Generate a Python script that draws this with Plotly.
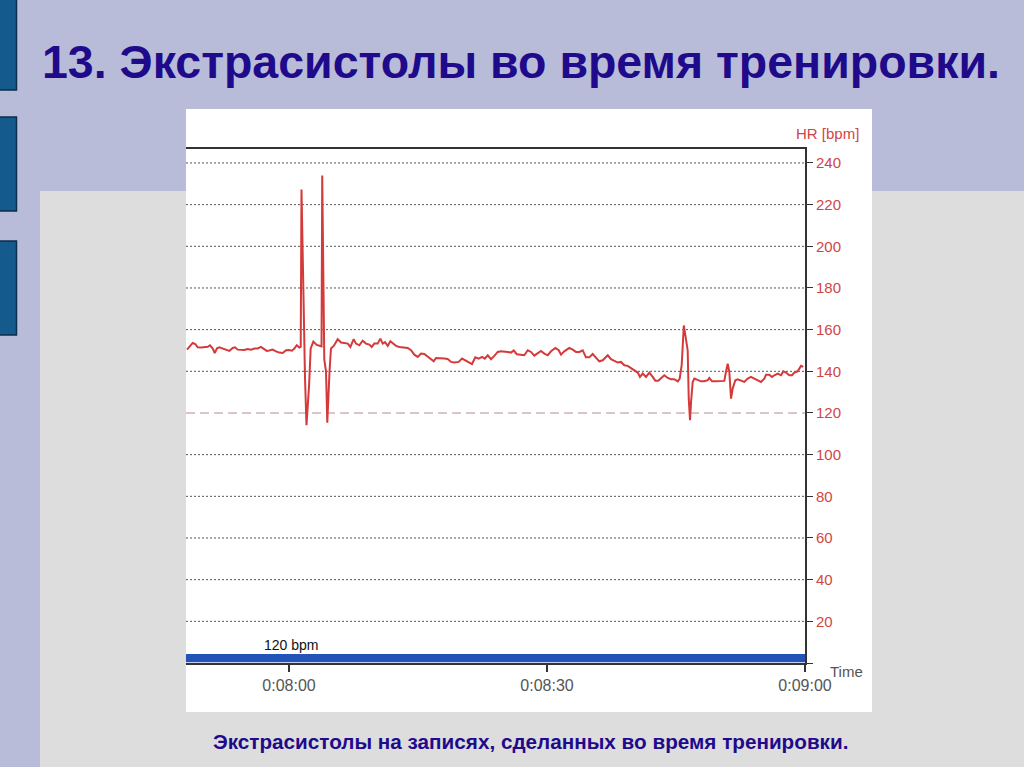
import plotly.graph_objects as go

# ---------------- data ----------------
time_s = [
    468.14, 468.49, 468.80, 469.10, 469.38, 469.77, 470.15, 470.55, 470.81, 471.13,
    471.36, 471.63, 471.90, 472.29, 472.67, 473.06, 473.45, 473.72, 474.03, 474.42,
    474.80, 475.20, 475.58, 475.97, 476.36, 476.74, 477.13, 477.41, 477.71, 478.10,
    478.49, 478.87, 479.27, 479.65, 479.97, 480.35, 480.62, 480.90, 481.20,
    481.36, 481.45, 481.74, 481.86, 482.03, 482.33, 482.52, 482.83, 483.22, 483.60,
    483.78, 483.86, 484.10, 484.30, 484.45, 484.71, 484.88,
    485.20, 485.66, 486.05, 486.43, 486.83, 487.13, 487.52, 487.79, 488.17, 488.57,
    488.95, 489.34, 489.62, 489.92, 490.31, 490.62, 490.90, 491.16, 491.48, 491.78,
    492.17, 492.44, 492.83, 493.22, 493.80, 494.19, 494.57, 494.97, 495.35, 495.73,
    496.13, 496.51, 496.83, 497.09,
    497.48, 498.06, 498.45, 498.84, 499.22, 499.73, 500.12, 500.58, 500.97, 501.28,
    501.66, 502.06, 502.44, 502.76, 503.11, 503.49, 503.87, 504.27, 504.65, 505.04,
    505.43, 505.81, 506.13, 506.48, 506.86, 507.36, 507.76, 508.14, 508.52, 508.92,
    509.30, 509.69, 510.08, 510.47, 510.97, 511.36,
    511.63, 512.01, 512.59, 512.99, 513.37, 513.76, 514.15, 514.53, 514.92, 515.31,
    515.70, 516.08, 516.48, 517.06, 517.44, 517.83, 518.22, 518.60, 518.99, 519.38,
    519.77, 520.15, 520.55, 520.81, 521.13, 521.51, 521.90, 522.29, 522.59, 522.94,
    523.26, 523.64, 524.04, 524.42, 524.80, 525.20, 525.43, 525.66, 525.91,
    526.05, 526.36, 526.48, 526.63, 526.75, 526.94,
    527.13, 527.52, 527.91, 528.29, 528.69, 528.87, 529.19, 529.65, 530.23, 530.62,
    530.81, 531.01, 531.20, 531.40, 531.59, 531.90, 532.17, 532.56, 532.94, 533.34,
    533.72, 534.11, 534.50, 534.88, 535.27, 535.47, 535.85, 536.16, 536.43, 536.83,
    537.21, 537.48, 537.79, 538.17, 538.49, 538.76, 539.15, 539.54, 539.80,
]
hr_bpm = [
    150.4, 152.2, 153.6, 153.1, 151.5, 151.4, 151.7, 151.8, 152.5, 150.9,
    148.8, 151.0, 151.5, 150.9, 150.6, 149.8, 151.2, 151.5, 150.4, 150.4,
    150.2, 150.7, 150.4, 150.9, 151.0, 151.7, 150.4, 149.8, 150.0, 150.4,
    149.6, 149.0, 148.8, 150.1, 150.2, 149.9, 150.9, 152.5, 151.4,
    151.7, 227.3, 158.9, 136.7, 114.1, 133.0, 151.0, 154.3, 152.7, 152.2,
    152.0, 234.0, 145.7, 140.0, 115.3, 140.0, 151.0,
    152.2, 155.4, 153.8, 153.4, 153.3, 151.7, 155.4, 153.3, 152.5, 154.7,
    153.3, 152.8, 151.7, 153.3, 153.3, 155.7, 153.3, 154.0, 152.2, 154.4,
    153.3, 152.2, 151.7, 151.5, 151.2, 150.1, 148.0, 146.9, 148.5, 148.3,
    146.9, 145.8, 144.8, 146.4,
    146.4, 146.1, 145.9, 144.5, 144.2, 144.5, 146.1, 145.1, 144.2, 143.5,
    146.7, 146.1, 146.9, 146.1, 147.7, 145.8, 147.4, 149.3, 149.6, 149.6,
    149.3, 149.0, 150.0, 148.2, 148.0, 147.7, 150.1, 149.3, 147.5, 148.5,
    149.8, 148.5, 147.7, 149.6, 151.2, 150.1,
    148.0, 149.6, 151.2, 150.4, 149.3, 149.3, 150.1, 146.7, 146.7, 148.3,
    146.4, 144.8, 145.3, 147.7, 145.8, 145.1, 144.2, 144.5, 142.9, 142.6,
    141.6, 140.5, 139.4, 137.3, 138.9, 137.3, 139.4, 137.3, 135.5, 135.5,
    136.8, 138.1, 136.8, 136.2, 136.2, 135.2, 136.5, 142.9, 162.0,
    158.0, 150.0, 127.0, 116.5, 125.4, 134.9,
    136.5, 136.0, 135.2, 135.2, 135.7, 136.8, 135.2, 135.2, 135.4, 135.4,
    139.7, 143.7, 139.7, 126.9, 131.7, 135.7, 136.2, 135.7, 134.9, 136.5,
    137.3, 136.5, 135.7, 134.9, 136.5, 138.4, 138.4, 137.3, 138.1, 138.9,
    138.1, 140.0, 139.4, 138.1, 138.1, 139.4, 140.0, 142.6, 142.1,
]
assert len(time_s) == len(hr_bpm)

x_tick_vals = [480, 510, 540]
x_tick_text = ["0:08:00", "0:08:30", "0:09:00"]
y_tick_vals = [0, 20, 40, 60, 80, 100, 120, 140, 160, 180, 200, 220, 240]
y_tick_text = ["", "20", "40", "60", "80", "100", "120", "140", "160", "180", "200", "220", "240"]
grid_vals = [20, 40, 60, 80, 100, 140, 160, 180, 200, 220, 240]
threshold_bpm = 120
zone_band = (0.4, 4.3)
x_range = [468.02, 540.0]
y_range = [0, 246.7]

title_text = "13. Экстрасистолы во время тренировки."
caption_text = "Экстрасистолы на записях, сделанных во время тренировки."

# ---------------- figure ----------------
W, H = 1024, 767
def px(x):
    return x / W
def py(y):
    return 1 - y / H

LAV = "#B9BCD8"
GRAY = "#DDDDDD"
NAVY = "#1F0A8C"
RED = "#D43A3A"
BOLDF = "Liberation Sans, Arial, sans-serif"
SANS = "Liberation Sans, Arial, sans-serif"

fig = go.Figure()
fig.add_trace(go.Scatter(
    x=time_s, y=hr_bpm, mode="lines",
    line=dict(color=RED, width=2), hoverinfo="skip", showlegend=False,
))

shapes = []
shapes.append(dict(type="rect", xref="paper", yref="paper", x0=px(40), x1=1, y0=0, y1=py(191),
                   fillcolor=GRAY, line_width=0, layer="below"))
for (y0, y1) in [(-2, 90), (117, 211), (241, 335)]:
    shapes.append(dict(type="rect", xref="paper", yref="paper", x0=px(-2), x1=px(16.5),
                       y0=py(y1), y1=py(y0), fillcolor="#155A8C",
                       line=dict(color="#0B2E4A", width=1.5), layer="below"))
shapes.append(dict(type="rect", xref="paper", yref="paper", x0=px(186), x1=px(872), y0=py(712), y1=py(109),
                   fillcolor="white", line_width=0, layer="below"))
for g in grid_vals:
    shapes.append(dict(type="line", xref="x domain", yref="y", x0=0, x1=1, y0=g, y1=g,
                       line=dict(color="#555555", width=1, dash="2px,2px"), layer="below"))
shapes.append(dict(type="line", xref="x domain", yref="y", x0=0, x1=1, y0=threshold_bpm, y1=threshold_bpm,
                   line=dict(color="#D3B3B3", width=1.5, dash="9px,5px"), layer="below"))
shapes.append(dict(type="rect", xref="x domain", yref="y", x0=0, x1=1, y0=zone_band[0], y1=zone_band[1],
                   fillcolor="#2352B8", line_width=0, layer="above"))
fig.update_layout(shapes=shapes)

annotations = [
    dict(text="<b>" + title_text + "</b>", xref="paper", yref="paper", x=px(521), y=py(62),
         xanchor="center", yanchor="middle", showarrow=False,
         font=dict(family=BOLDF, size=46.5, color=NAVY)),
    dict(text="<b>" + caption_text + "</b>", xref="paper", yref="paper", x=px(530.5), y=py(741),
         xanchor="center", yanchor="middle", showarrow=False,
         font=dict(family=BOLDF, size=20.7, color=NAVY)),
    dict(text="HR [bpm]", xref="paper", yref="paper", x=px(861), y=py(133),
         xanchor="right", yanchor="middle", showarrow=False,
         font=dict(family=SANS, size=15, color="#D24545")),
    dict(text="Time", xref="paper", yref="paper", x=px(828), y=py(671),
         xanchor="left", yanchor="middle", showarrow=False,
         font=dict(family=SANS, size=15, color="#555555")),
    dict(text="120 bpm", xref="paper", yref="paper", x=px(262), y=py(645),
         xanchor="left", yanchor="middle", showarrow=False,
         font=dict(family=SANS, size=14, color="#111111")),
]
fig.update_layout(annotations=annotations)

fig.update_layout(
    width=W, height=H, autosize=False,
    margin=dict(l=0, r=0, t=0, b=0, pad=0),
    paper_bgcolor=LAV, plot_bgcolor="white",
    xaxis=dict(domain=[px(186), px(805)], range=x_range, tickvals=x_tick_vals, ticktext=x_tick_text,
               automargin=False,
               showgrid=False, zeroline=False, showline=True, mirror=True, linecolor="#333333", linewidth=2,
               ticks="outside", ticklen=7, tickcolor="#333333", tickwidth=1.5,
               tickfont=dict(family=SANS, size=16, color="#555555"), fixedrange=True),
    yaxis=dict(domain=[py(663), py(149)], range=y_range, side="right", tickvals=y_tick_vals,
               automargin=False,
               ticktext=y_tick_text, showgrid=False, zeroline=False, showline=True,
               linecolor="#333333", linewidth=2, ticks="outside", ticklen=6, tickcolor="#333333",
               tickwidth=1, tickfont=dict(family=SANS, size=15, color="#D24545"), fixedrange=True),
)

fig.write_html("out.html", config={"displayModeBar": False},
               post_script="document.body.style.margin='0px';document.body.style.overflow='hidden';")
